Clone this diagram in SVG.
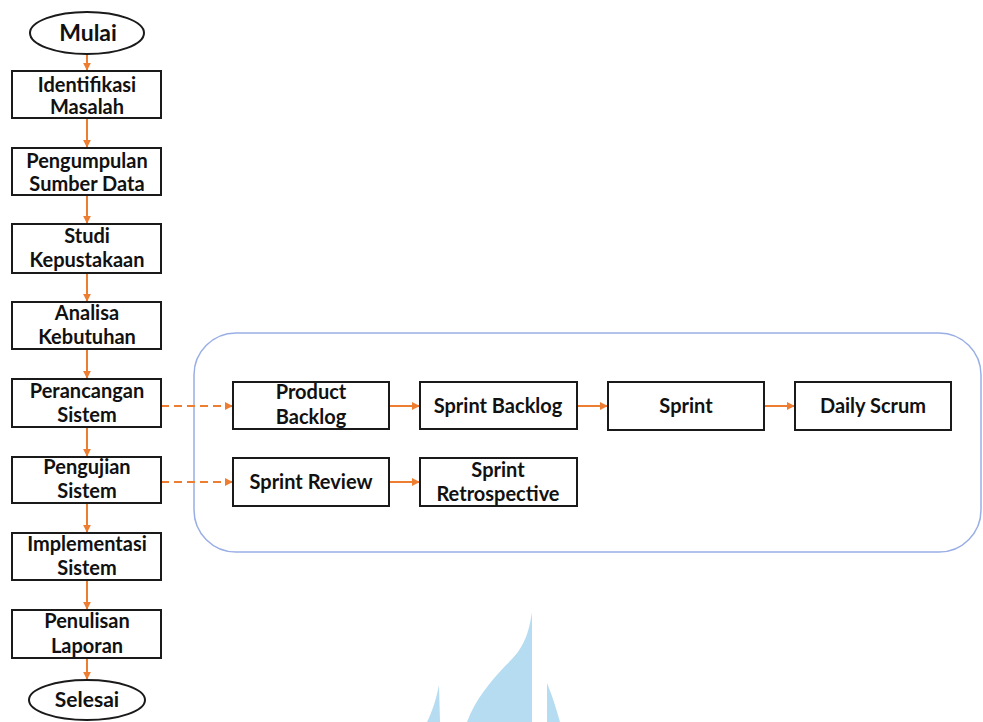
<svg xmlns="http://www.w3.org/2000/svg" width="983" height="722" viewBox="0 0 983 722">
<style>
.box{fill:#fff;stroke:#1a1a1a;stroke-width:2}
.t{font-family:Lato,"Open Sans","Liberation Sans",sans-serif;font-weight:bold;font-size:20px;fill:#111;text-anchor:middle}
.c{stroke:#ED7D31;stroke-width:2;fill:none}
.d{stroke:#ED7D31;stroke-width:2;fill:none;stroke-dasharray:8 5}
</style>
<defs>
<marker id="ah" viewBox="0 0 10 10" refX="9" refY="5" markerWidth="4" markerHeight="4" orient="auto"><path d="M0,0 L10,5 L0,10 z" fill="#ED7D31"/></marker>
</defs>
<rect width="983" height="722" fill="#fff"/>
<g id="watermark" fill="#b5dcf1">
<path d="M532,612 C528,640 520,652 506,665 C490,682 475,700 467,722 L532,722 Z"/>
<path d="M439,685 C436,700 432,712 427,722 L440,722 Z"/>
<path d="M547,683 L547,722 L560,722 C556,708 552,695 547,683 Z"/>
</g>
<rect id="container" x="194" y="333" width="787" height="219" rx="42" ry="42" fill="none" stroke="#9aaee6" stroke-width="1.5"/>
<g id="connectors">
<line class="c" x1="87" y1="55" x2="87" y2="70" marker-end="url(#ah)"/>
<line class="c" x1="87" y1="118" x2="87" y2="147" marker-end="url(#ah)"/>
<line class="c" x1="87" y1="195" x2="87" y2="223" marker-end="url(#ah)"/>
<line class="c" x1="87" y1="273" x2="87" y2="301" marker-end="url(#ah)"/>
<line class="c" x1="87" y1="349" x2="87" y2="378" marker-end="url(#ah)"/>
<line class="c" x1="87" y1="427" x2="87" y2="456" marker-end="url(#ah)"/>
<line class="c" x1="87" y1="503" x2="87" y2="532" marker-end="url(#ah)"/>
<line class="c" x1="87" y1="580" x2="87" y2="609" marker-end="url(#ah)"/>
<line class="c" x1="87" y1="658" x2="87" y2="679" marker-end="url(#ah)"/>
<line class="d" x1="161" y1="406" x2="232" y2="406" marker-end="url(#ah)"/>
<line class="d" x1="161" y1="482" x2="232" y2="482" marker-end="url(#ah)"/>
<line class="c" x1="390" y1="406" x2="419" y2="406" marker-end="url(#ah)"/>
<line class="c" x1="578" y1="406" x2="607" y2="406" marker-end="url(#ah)"/>
<line class="c" x1="765" y1="406" x2="794" y2="406" marker-end="url(#ah)"/>
<line class="c" x1="390" y1="482" x2="419" y2="482" marker-end="url(#ah)"/>
</g>
<g id="mulai"><ellipse class="box" cx="87" cy="33" rx="57" ry="21"/><text class="t" x="88" y="41" style="font-size:23px">Mulai</text></g>
<g id="identifikasi"><rect class="box" x="12" y="71" width="149" height="47"/><text class="t" x="87" y="92">Identifikasi</text><text class="t" x="87" y="114">Masalah</text></g>
<g id="pengumpulan"><rect class="box" x="12" y="148" width="149" height="47"/><text class="t" x="87" y="168">Pengumpulan</text><text class="t" x="87" y="191">Sumber Data</text></g>
<g id="studi"><rect class="box" x="12" y="224" width="149" height="49"/><text class="t" x="87" y="243">Studi</text><text class="t" x="87" y="267">Kepustakaan</text></g>
<g id="analisa"><rect class="box" x="12" y="302" width="149" height="47"/><text class="t" x="87" y="320">Analisa</text><text class="t" x="87" y="344">Kebutuhan</text></g>
<g id="perancangan"><rect class="box" x="12" y="379" width="149" height="48"/><text class="t" x="87" y="398">Perancangan</text><text class="t" x="87" y="422">Sistem</text></g>
<g id="pengujian"><rect class="box" x="12" y="457" width="149" height="46"/><text class="t" x="87" y="474">Pengujian</text><text class="t" x="87" y="498">Sistem</text></g>
<g id="implementasi"><rect class="box" x="12" y="533" width="149" height="47"/><text class="t" x="87" y="551">Implementasi</text><text class="t" x="87" y="575">Sistem</text></g>
<g id="penulisan"><rect class="box" x="12" y="610" width="149" height="48"/><text class="t" x="87" y="628">Penulisan</text><text class="t" x="87" y="653">Laporan</text></g>
<g id="selesai"><ellipse class="box" cx="87" cy="700" rx="58" ry="20"/><text class="t" x="87" y="707" style="font-size:21px">Selesai</text></g>
<g id="product-backlog"><rect class="box" x="233" y="382" width="156" height="47"/><text class="t" x="311" y="399">Product</text><text class="t" x="311" y="424">Backlog</text></g>
<g id="sprint-backlog"><rect class="box" x="420" y="382" width="157" height="47"/><text class="t" x="498" y="413">Sprint Backlog</text></g>
<g id="sprint"><rect class="box" x="608" y="382" width="156" height="48"/><text class="t" x="686" y="413">Sprint</text></g>
<g id="daily-scrum"><rect class="box" x="795" y="382" width="156" height="48"/><text class="t" x="873" y="413">Daily Scrum</text></g>
<g id="sprint-review"><rect class="box" x="233" y="458" width="156" height="48"/><text class="t" x="311" y="489">Sprint Review</text></g>
<g id="sprint-retrospective"><rect class="box" x="420" y="458" width="157" height="48"/><text class="t" x="498" y="477">Sprint</text><text class="t" x="498" y="501">Retrospective</text></g>
</svg>
